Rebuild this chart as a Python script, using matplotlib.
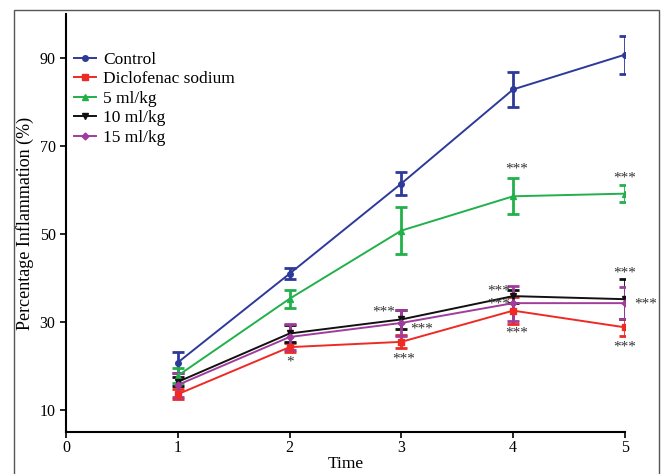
import matplotlib.pyplot as plt
from matplotlib.lines import Line2D
from matplotlib.patches import Rectangle

plt.rcParams["font.family"] = ["Liberation Serif", "DejaVu Serif"]

time = [1, 2, 3, 4, 5]
groups = ["Control", "Diclofenac sodium", "5 ml/kg", "10 ml/kg", "15 ml/kg"]
means = {
    "Control": [20.8, 41.0, 61.5, 82.9, 90.8],
    "Diclofenac sodium": [13.6, 24.3, 25.5, 32.6, 28.8],
    "5 ml/kg": [17.8, 35.3, 50.8, 58.6, 59.2],
    "10 ml/kg": [16.4, 27.4, 30.6, 35.9, 35.2],
    "15 ml/kg": [15.7, 26.6, 29.8, 34.3, 34.3],
}
errors = {
    "Control": [2.3, 1.2, 2.7, 3.9, 4.3],
    "Diclofenac sodium": [1.2, 1.0, 1.5, 3.0, 1.9],
    "5 ml/kg": [1.7, 2.1, 5.4, 4.1, 2.0],
    "10 ml/kg": [1.0, 2.0, 2.2, 1.5, 4.5],
    "15 ml/kg": [2.8, 2.9, 2.9, 4.0, 3.7],
}
# significance marks: (x, y, text)
stars = [
    (2.0, 21.0, "*"),
    (2.84, 32.3, "***"), (3.18, 28.5, "***"), (3.02, 21.7, "***"),
    (4.03, 64.9, "***"), (3.87, 37.0, "***"), (3.87, 34.0, "***"), (4.03, 27.4, "***"),
    (5.0, 62.8, "***"), (5.0, 41.1, "***"), (5.19, 34.2, "***"), (5.0, 24.4, "***"),
]

colors = ["#2E3A98", "#EE2A24", "#22B04B", "#111111", "#A03C9C"]
markers = ["o", "s", "^", "v", "D"]

fig = plt.figure(figsize=(6.62, 4.74), dpi=100)
ax = fig.add_axes([0.0997, 0.0886, 0.8443, 0.8814])

handles = []
for g, c, m in zip(groups, colors, markers):
    ms = 4 if m != "D" else 3.5
    ax.errorbar(time, means[g], yerr=errors[g], color=c, marker=m,
                markersize=ms, linewidth=1.4,
                elinewidth=2, capsize=4, capthick=2)
    handles.append(Line2D([], [], color=c, marker=m, markersize=ms,
                          linewidth=1.4, label=g))

for x, y, s in stars:
    ax.text(x, y, s, ha="center", va="center", fontsize=11, color="#333333")

ax.set_xlim(0, 5)
ax.set_ylim(5, 100)
ax.set_xticks([0, 1, 2, 3, 4, 5])
ax.set_yticks([10, 30, 50, 70, 90])
ax.spines["top"].set_visible(False)
ax.spines["right"].set_visible(False)
ax.spines["left"].set_linewidth(1.5)
ax.spines["bottom"].set_linewidth(1.5)
ax.tick_params(direction="out", length=4, width=1.2, labelsize=11.5)
ax.tick_params(axis="x", pad=2)
ax.set_xlabel("Time", fontsize=12.5, labelpad=0)
ax.set_ylabel("Percentage Inflammation (%)", fontsize=13, labelpad=4)

ax.legend(handles=handles, loc="upper left", bbox_to_anchor=(-0.008, 0.94),
          frameon=False, fontsize=12.5, handlelength=1.3, handletextpad=0.4,
          labelspacing=0.2, borderaxespad=0.3)

fig.patches.append(Rectangle((0.021, -0.02), 0.9745, 0.999, transform=fig.transFigure,
                             fill=False, edgecolor="#555555", linewidth=1))

fig.savefig("out.png", dpi=100)
